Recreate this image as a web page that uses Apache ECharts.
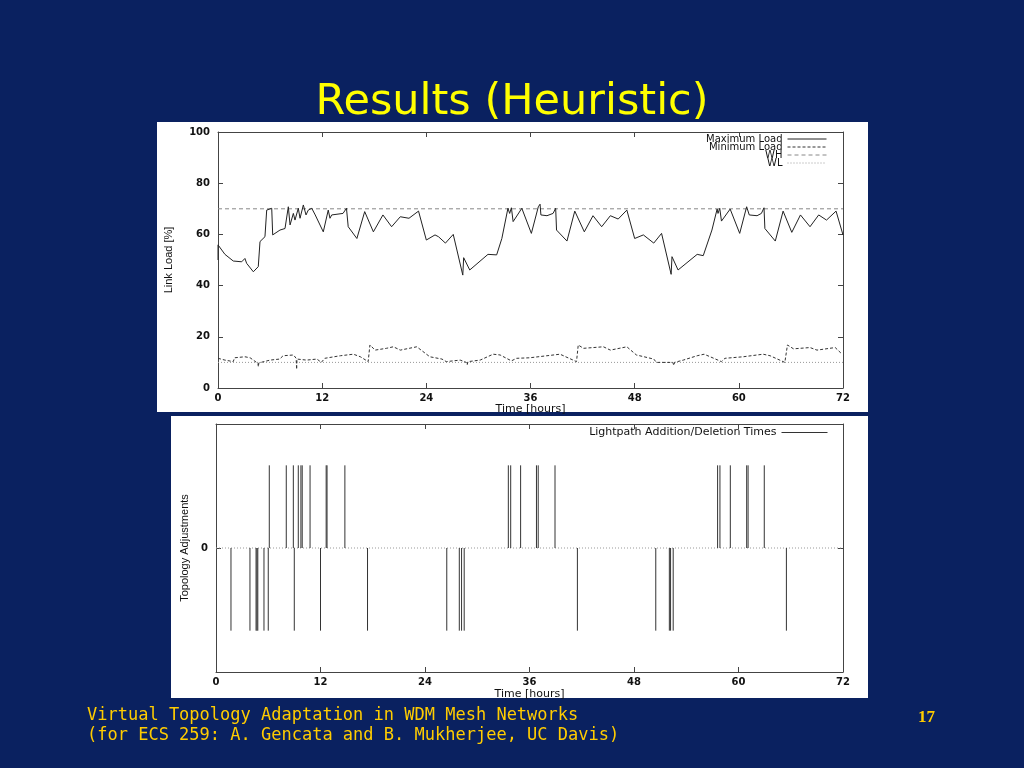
<!DOCTYPE html>
<html>
<head>
<meta charset="utf-8">
<script src="https://cdn.jsdelivr.net/npm/echarts@6/dist/echarts.min.js"></script>
<style>
html,body{margin:0;padding:0;background:#0a2160;}
#c{width:1024px;height:768px;}
</style>
</head>
<body>
<div id="c"></div>
<script>
// ---------- data ----------
const xTicks = [0, 12, 24, 36, 48, 60, 72];
const linkLoadTicks = [0, 20, 40, 60, 80, 100];

const maxLoadHours = [0, 0, 0.8, 1.76, 2.73, 3.1, 3.3, 4.07, 4.64, 4.84, 5.41, 5.61, 6.19, 6.3, 7.14, 7.72, 8.1, 8.3, 8.68, 8.87, 9.25, 9.45, 9.83, 10.14, 10.4, 10.8, 11.2, 12.13, 12.7, 12.9, 13.1, 14.4, 14.8, 15.0, 16.0, 16.9, 17.9, 19.0, 20.0, 21.0, 22.0, 23.1, 24.0, 25.0, 25.4, 26.2, 27.1, 28.2, 28.3, 29.0, 31.1, 32.1, 32.7, 33.4, 33.6, 33.8, 34.0, 35.0, 36.1, 36.9, 37.1, 37.2, 37.9, 38.6, 38.9, 39.0, 40.2, 41.1, 42.2, 43.2, 44.2, 45.2, 46.1, 47.1, 48.0, 49.0, 50.2, 51.1, 52.2, 52.3, 53.0, 55.2, 55.9, 56.9, 57.5, 57.6, 57.8, 58.0, 59.0, 60.1, 60.9, 61.1, 61.2, 62.1, 62.6, 62.9, 63.0, 64.2, 65.1, 66.1, 67.1, 68.2, 69.2, 70.1, 71.2, 72.0];
const maxLoadValues = [50, 55.9, 52.2, 49.6, 49.3, 50.6, 48.7, 45.4, 47.4, 57.2, 59.1, 69.5, 70.2, 59.8, 61.7, 62.3, 70.8, 63.7, 68.2, 65.6, 70.2, 66.3, 71.5, 67.6, 69.5, 70.2, 67.6, 61, 69.5, 66.3, 67.6, 68.2, 70.2, 63, 58.4, 68.9, 61, 67.6, 63, 66.9, 66.3, 69.1, 57.8, 59.8, 59.1, 56.6, 60, 44.1, 50.9, 46.1, 52.2, 52, 58.4, 70.2, 68.2, 70.4, 65, 70.2, 60.4, 70.8, 71.8, 67.6, 67.3, 68.2, 70.2, 61.7, 57.4, 69.1, 61, 67.3, 63, 67.3, 66, 69.5, 58.4, 59.8, 56.6, 60.4, 44.4, 51.3, 46.1, 52.2, 51.7, 61.7, 69.9, 68.2, 70.2, 65.2, 69.9, 60.4, 70.8, 71.5, 67.6, 67.3, 68.2, 70.4, 62.3, 57.4, 69.1, 60.8, 67.6, 63, 67.6, 65.6, 69.1, 59.8];

const minLoadHours = [0, 0.8, 1.76, 1.9, 3.1, 3.7, 4.07, 4.6, 4.65, 4.7, 6.0, 7.1, 7.5, 8.7, 9.0, 9.06, 9.1, 10.2, 11.4, 11.9, 12.3, 14.1, 15.6, 16.4, 17.3, 17.5, 18.1, 19.4, 20.2, 21.0, 22.9, 24.4, 25.8, 26.3, 27.9, 28.6, 28.7, 28.8, 30.2, 31.7, 32.5, 33.8, 34.4, 35.9, 39.4, 41.3, 41.5, 42.1, 44.4, 45.2, 47.1, 48.2, 50.2, 50.5, 52.4, 52.5, 52.6, 53.6, 55.2, 56.0, 56.7, 58.0, 58.4, 60.5, 62.8, 63.6, 65.3, 65.6, 66.3, 68.2, 69.0, 71.1, 71.9];
const minLoadValues = [11.6, 10.9, 10.3, 11.8, 12.2, 11.8, 10.9, 9.6, 8.3, 9.8, 10.9, 11.3, 12.6, 12.9, 11.6, 7.3, 11.3, 10.9, 11.3, 10.0, 11.6, 12.6, 13.2, 12.2, 10.3, 16.8, 14.8, 15.5, 16.1, 14.8, 16.1, 12.2, 11.3, 10.3, 10.9, 10.0, 9.0, 10.3, 10.9, 13.2, 12.9, 10.6, 11.6, 11.8, 13.2, 10.3, 16.8, 15.5, 16.1, 14.8, 16.1, 12.9, 11.3, 10.0, 10.0, 8.8, 10.0, 10.9, 12.6, 13.2, 12.2, 10.3, 11.6, 12.2, 13.2, 12.6, 10.0, 16.8, 15.3, 15.8, 14.8, 15.8, 13.2];

const whLevel = 70;
const wlLevel = 10;

const additionTimes = [6.12, 8.07, 8.88, 9.45, 9.75, 9.9, 10.8, 12.65, 12.75, 14.8, 33.57, 33.84, 34.98, 36.8, 37.0, 38.93, 57.6, 57.87, 59.06, 60.94, 61.1, 62.96];
const deletionTimes = [1.72, 3.9, 4.6, 4.7, 4.8, 5.51, 6.0, 8.99, 12.0, 17.4, 26.5, 27.94, 28.2, 28.5, 41.5, 50.5, 52.06, 52.2, 52.5, 65.5];

// ---------- build ----------
const zip = (a, b) => a.map((v, i) => [v, b[i]]);
const spikes = [];
additionTimes.forEach(t => { spikes.push([t, 0], [t, 1], [t, null]); });
deletionTimes.forEach(t => { spikes.push([t, 0], [t, -1], [t, null]); });

const INK = '#222';
const tickLabel = {color: '#111', fontFamily: 'DejaVu Sans', fontWeight: 'bold', fontSize: 10};
const nameStyle = {color: '#111', fontFamily: 'DejaVu Sans', fontSize: 11};
const vNameStyle = {color: '#111', fontFamily: "'Liberation Sans Narrow', 'Liberation Sans', sans-serif", fontSize: 11};
const axLine = {show: true, onZero: false, lineStyle: {color: '#444', width: 1}};
const axTick = {show: true, inside: true, length: 5, lineStyle: {color: '#444'}};

function legendAt(name, top, right, w, fs) {
  return {
    data: [name], orient: 'horizontal', align: 'right', right: right, top: top,
    padding: 0, itemWidth: w, itemHeight: 8, itemGap: 0, selectedMode: false,
    itemStyle: {opacity: 0, borderWidth: 0},
    lineStyle: {width: 1},
    textStyle: {color: '#111', fontFamily: 'DejaVu Sans', fontSize: fs}
  };
}

const chart = echarts.init(document.getElementById('c'), null, {renderer: 'canvas'});
chart.setOption({
  backgroundColor: '#0a2160',
  animation: false,
  title: [
    {text: 'Results (Heuristic)', left: 'center', top: 76,
     textStyle: {color: '#ffff00', fontFamily: 'DejaVu Sans', fontWeight: 'normal', fontSize: 43}},
    {text: 'Virtual Topology Adaptation in WDM Mesh Networks\n(for ECS 259: A. Gencata and B. Mukherjee, UC Davis)',
     left: 87, top: 706, padding: 0,
     textStyle: {color: '#ffcc00', fontFamily: "'DejaVu Sans Mono', 'Liberation Mono', monospace", fontWeight: 'normal', fontSize: 17, lineHeight: 20}},
    {text: '17', left: 918, top: 709, padding: 0,
     textStyle: {color: '#ffcc00', fontFamily: "'Liberation Serif', serif", fontWeight: 'bold', fontSize: 17}}
  ],
  graphic: [
    {type: 'rect', z: -10, shape: {x: 157, y: 122, width: 711, height: 290}, style: {fill: '#ffffff'}},
    {type: 'rect', z: -10, shape: {x: 171, y: 416, width: 697, height: 282}, style: {fill: '#ffffff'}}
  ],
  legend: [
    legendAt('Maximum Load', 134, 197, 39, 10),
    legendAt('Minimum Load', 142, 197, 39, 10),
    legendAt('WH', 150, 197, 39, 10),
    legendAt('WL', 158, 197, 39, 10),
    legendAt('Lightpath Addition/Deletion Times', 427, 196, 46, 11)
  ],
  grid: [
    {left: 218, top: 132, width: 625, height: 256},
    {left: 216, top: 424, width: 627, height: 248}
  ],
  xAxis: [
    {gridIndex: 0, type: 'value', min: 0, max: 72, interval: 12, position: 'bottom',
     axisLine: axLine, axisTick: axTick, splitLine: {show: false},
     axisLabel: Object.assign({margin: 5}, tickLabel),
     name: 'Time [hours]', nameLocation: 'middle', nameGap: 16, nameTextStyle: nameStyle},
    {gridIndex: 0, type: 'value', min: 0, max: 72, interval: 12, position: 'top',
     axisLine: axLine, axisTick: axTick, splitLine: {show: false}, axisLabel: {show: false}},
    {gridIndex: 1, type: 'value', min: 0, max: 72, interval: 12, position: 'bottom',
     axisLine: axLine, axisTick: axTick, splitLine: {show: false},
     axisLabel: Object.assign({margin: 5}, tickLabel),
     name: 'Time [hours]', nameLocation: 'middle', nameGap: 17, nameTextStyle: nameStyle},
    {gridIndex: 1, type: 'value', min: 0, max: 72, interval: 12, position: 'top',
     axisLine: axLine, axisTick: axTick, splitLine: {show: false}, axisLabel: {show: false}}
  ],
  yAxis: [
    {gridIndex: 0, type: 'value', min: 0, max: 100, interval: 20, position: 'left',
     axisLine: axLine, axisTick: axTick, splitLine: {show: false},
     axisLabel: Object.assign({margin: 8}, tickLabel),
     name: 'Link Load [%]', nameLocation: 'middle', nameGap: 44, nameRotate: 90, nameTextStyle: vNameStyle},
    {gridIndex: 0, type: 'value', min: 0, max: 100, interval: 20, position: 'right',
     axisLine: axLine, axisTick: axTick, splitLine: {show: false}, axisLabel: {show: false}},
    {gridIndex: 1, type: 'value', min: -1.5, max: 1.5, interval: 1.5, position: 'left',
     axisLine: axLine, axisTick: axTick, splitLine: {show: false},
     axisLabel: Object.assign({margin: 8, formatter: v => (v === 0 ? '0' : '')}, tickLabel),
     name: 'Topology Adjustments', nameLocation: 'middle', nameGap: 26, nameRotate: 90, nameTextStyle: vNameStyle},
    {gridIndex: 1, type: 'value', min: -1.5, max: 1.5, interval: 1.5, position: 'right',
     axisLine: axLine, axisTick: axTick, splitLine: {show: false}, axisLabel: {show: false}}
  ],
  series: [
    {name: 'WH', type: 'line', xAxisIndex: 0, yAxisIndex: 0, symbol: 'none', silent: true,
     data: [[0, whLevel], [72, whLevel]], color: '#888',
     lineStyle: {color: '#888', width: 1, type: [4, 3]}},
    {name: 'WL', type: 'line', xAxisIndex: 0, yAxisIndex: 0, symbol: 'none', silent: true,
     data: [[0, wlLevel], [72, wlLevel]], color: '#999',
     lineStyle: {color: '#999', width: 1, type: [1, 2]}},
    {name: 'Maximum Load', type: 'line', xAxisIndex: 0, yAxisIndex: 0, symbol: 'none',
     data: zip(maxLoadHours, maxLoadValues), color: INK,
     lineStyle: {color: INK, width: 1}},
    {name: 'Minimum Load', type: 'line', xAxisIndex: 0, yAxisIndex: 0, symbol: 'none',
     data: zip(minLoadHours, minLoadValues), color: '#333',
     lineStyle: {color: '#333', width: 1, type: [3, 2]}},
    {name: 'zero', type: 'line', xAxisIndex: 2, yAxisIndex: 2, symbol: 'none', silent: true,
     data: [[0, 0], [72, 0]], lineStyle: {color: '#999', width: 1, type: [1, 2]}},
    {name: 'Lightpath Addition/Deletion Times', type: 'line', xAxisIndex: 2, yAxisIndex: 2,
     symbol: 'none', connectNulls: false, data: spikes, color: '#333',
     lineStyle: {color: '#333', width: 1}}
  ]
});
</script>
</body>
</html>
